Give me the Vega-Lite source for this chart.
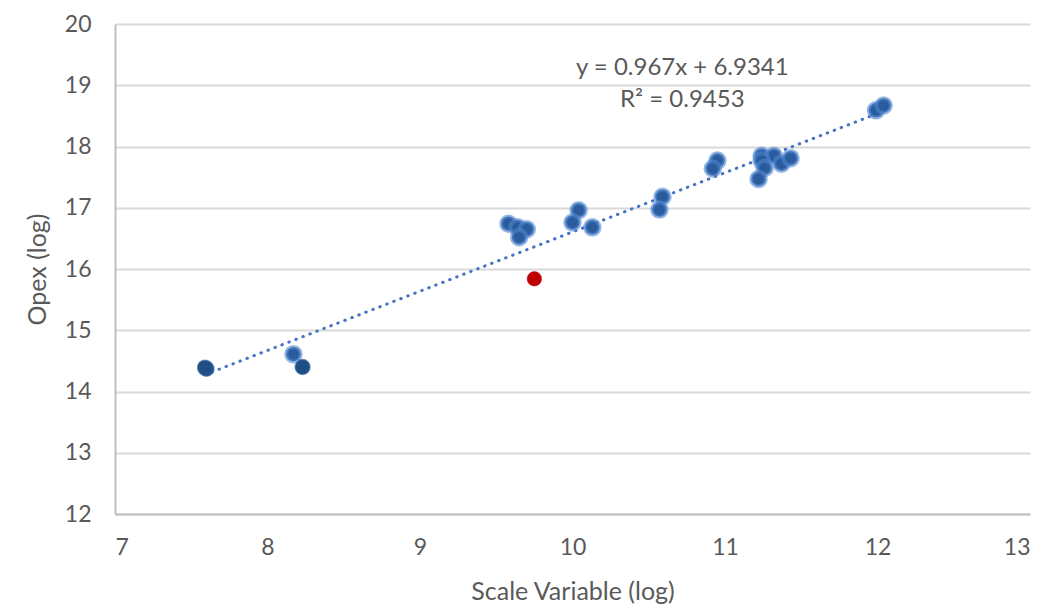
{
  "$schema": "https://vega.github.io/schema/vega-lite/v6.json",
  "autosize": "none",
  "width": 915,
  "height": 490,
  "padding": {"left": 115, "top": 24, "right": 20, "bottom": 96},
  "background": "white",
  "config": {
    "view": {"stroke": null},
    "font": "Lato",
    "axis": {
      "labelFont": "Lato",
      "titleFont": "Lato",
      "labelColor": "#595959",
      "titleColor": "#595959",
      "labelFontSize": 23,
      "titleFontSize": 25,
      "titleFontWeight": "normal",
      "domainColor": "#BFBFBF",
      "domainWidth": 2,
      "gridColor": "#D9D9D9",
      "gridWidth": 2,
      "ticks": false,
      "labelOverlap": false,
      "format": "d"
    }
  },
  "datasets": {
    "points": [
      {"scale": 7.60, "opex": 14.37, "grp": "dark"},
      {"scale": 7.59, "opex": 14.39, "grp": "dark"},
      {"scale": 8.17, "opex": 14.61, "grp": "normal"},
      {"scale": 8.23, "opex": 14.40, "grp": "dark"},
      {"scale": 9.58, "opex": 16.74, "grp": "normal"},
      {"scale": 9.64, "opex": 16.68, "grp": "normal"},
      {"scale": 9.70, "opex": 16.65, "grp": "normal"},
      {"scale": 9.65, "opex": 16.52, "grp": "normal"},
      {"scale": 10.04, "opex": 16.96, "grp": "normal"},
      {"scale": 10.00, "opex": 16.76, "grp": "normal"},
      {"scale": 10.13, "opex": 16.68, "grp": "normal"},
      {"scale": 10.59, "opex": 17.18, "grp": "normal"},
      {"scale": 10.57, "opex": 16.97, "grp": "normal"},
      {"scale": 10.95, "opex": 17.77, "grp": "normal"},
      {"scale": 10.92, "opex": 17.64, "grp": "normal"},
      {"scale": 11.24, "opex": 17.85, "grp": "normal"},
      {"scale": 11.32, "opex": 17.85, "grp": "normal"},
      {"scale": 11.24, "opex": 17.77, "grp": "normal"},
      {"scale": 11.26, "opex": 17.65, "grp": "normal"},
      {"scale": 11.22, "opex": 17.47, "grp": "normal"},
      {"scale": 11.37, "opex": 17.72, "grp": "normal"},
      {"scale": 11.43, "opex": 17.81, "grp": "normal"},
      {"scale": 11.99, "opex": 18.59, "grp": "normal"},
      {"scale": 12.04, "opex": 18.67, "grp": "normal"},
      {"scale": 9.75, "opex": 15.84, "grp": "outlier"}
    ],
    "trend": [
      {"scale": 7.59, "opex": 14.274},
      {"scale": 12.02, "opex": 18.558}
    ],
    "labels": [
      {"scale": 10.72, "opex": 19.28, "text": "y = 0.967x + 6.9341"},
      {"scale": 10.72, "opex": 18.76, "text": "R² = 0.9453"}
    ]
  },
  "layer": [
    {
      "data": {"name": "trend"},
      "mark": {"type": "line", "color": "#4472C4", "strokeWidth": 3, "strokeDash": [0.5, 7], "strokeCap": "round"},
      "encoding": {
        "x": {"field": "scale", "type": "quantitative", "scale": {"domain": [7, 13], "nice": false},
              "axis": {"title": "Scale Variable (log)", "values": [7, 8, 9, 10, 11, 12, 13], "grid": false, "labelPadding": 22, "titlePadding": 20}},
        "y": {"field": "opex", "type": "quantitative", "scale": {"domain": [12, 20], "nice": false, "zero": false},
              "axis": {"title": "Opex (log)", "values": [12, 13, 14, 15, 16, 17, 18, 19, 20], "grid": true, "labelPadding": 24, "titlePadding": 14}}
      }
    },
    {
      "data": {"name": "points"},
      "transform": [{"filter": "datum.grp === 'normal'"}],
      "mark": {"type": "point", "filled": true, "opacity": 1, "size": 210, "fill": "#2A5B9C", "stroke": "#4F86CF", "strokeWidth": 4, "strokeOpacity": 0.6},
      "encoding": {
        "x": {"field": "scale", "type": "quantitative"},
        "y": {"field": "opex", "type": "quantitative"}
      }
    },
    {
      "data": {"name": "points"},
      "transform": [{"filter": "datum.grp === 'dark'"}],
      "mark": {"type": "point", "filled": true, "opacity": 1, "size": 220, "fill": "#1F4E85", "stroke": "#2E5F9E", "strokeWidth": 1.5, "strokeOpacity": 0.6},
      "encoding": {
        "x": {"field": "scale", "type": "quantitative"},
        "y": {"field": "opex", "type": "quantitative"}
      }
    },
    {
      "data": {"name": "points"},
      "transform": [{"filter": "datum.grp === 'outlier'"}],
      "mark": {"type": "point", "filled": true, "opacity": 1, "size": 210, "fill": "#C00000", "stroke": "#C00000", "strokeWidth": 0.5},
      "encoding": {
        "x": {"field": "scale", "type": "quantitative"},
        "y": {"field": "opex", "type": "quantitative"}
      }
    },
    {
      "data": {"name": "labels"},
      "mark": {"type": "text", "font": "Lato", "fontSize": 24, "color": "#595959", "align": "center", "baseline": "middle"},
      "encoding": {
        "x": {"field": "scale", "type": "quantitative"},
        "y": {"field": "opex", "type": "quantitative"},
        "text": {"field": "text"}
      }
    }
  ]
}
